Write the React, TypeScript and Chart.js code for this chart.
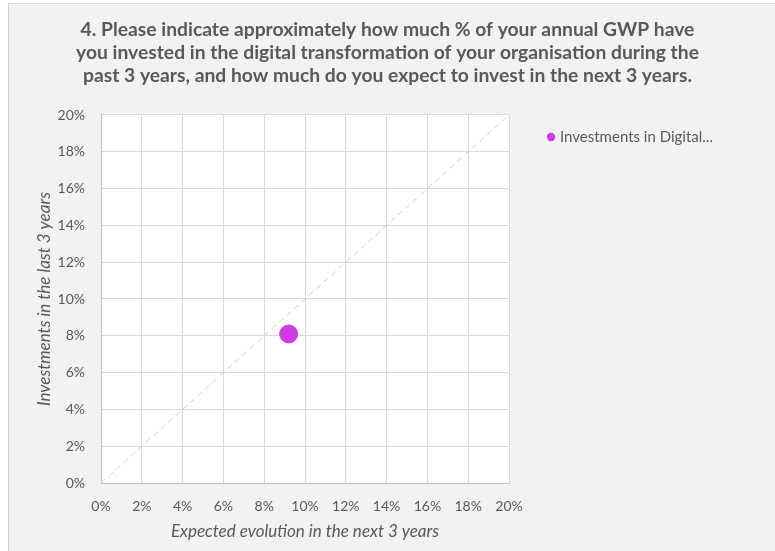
import React, { useEffect, useRef } from 'react';
import { Chart, registerables } from 'chart.js';

Chart.register(...registerables);

// ---- data ----
const titleLines = [
  '4. Please indicate approximately how much % of your annual GWP have',
  'you invested in the digital transformation of your organisation during the',
  'past 3 years, and how much do you expect to invest in the next 3 years.',
];
const seriesLabel = 'Investments in Digital...';
const expectedNext3Years = [9.2];
const investedLast3Years = [8.1];
const diagonalX = [0, 20];
const diagonalY = [0, 20];
const xAxisTitle = 'Expected evolution in the next 3 years';
const yAxisTitle = 'Investments in the last 3 years';
const axisMin = 0;
const axisMax = 20;
const axisStep = 2;

const FONT = 'Lato, "Open Sans", sans-serif';
const TEXT = '#595959';
const POINT = '#cf3ce6';

const backgroundPlugin = {
  id: 'bgPanel',
  beforeDraw(chart: any) {
    const { ctx, width, height, chartArea } = chart;
    ctx.save();
    ctx.fillStyle = '#ffffff';
    ctx.fillRect(0, 0, width, height);
    ctx.fillStyle = '#f2f2f2';
    ctx.fillRect(8, 3, width - 8, height - 3);
    ctx.strokeStyle = '#d4d4d4';
    ctx.lineWidth = 1;
    ctx.beginPath();
    ctx.moveTo(8.5, height);
    ctx.lineTo(8.5, 3.5);
    ctx.lineTo(width, 3.5);
    ctx.stroke();
    ctx.fillStyle = '#ffffff';
    ctx.fillRect(chartArea.left, chartArea.top, chartArea.right - chartArea.left, chartArea.bottom - chartArea.top);
    ctx.restore();
  },
};

const sideLegendPlugin = {
  id: 'sideLegend',
  afterDraw(chart: any) {
    const { ctx, chartArea } = chart;
    const ds = chart.data.datasets[0];
    const x = chartArea.right + 42;
    const y = chartArea.top + 22;
    ctx.save();
    ctx.fillStyle = ds.backgroundColor;
    ctx.beginPath();
    ctx.arc(x, y, 4.2, 0, Math.PI * 2);
    ctx.fill();
    ctx.fillStyle = TEXT;
    ctx.font = `15px ${FONT}`;
    ctx.textBaseline = 'middle';
    ctx.textAlign = 'left';
    ctx.fillText(ds.label, x + 9, y);
    ctx.restore();
  },
};

export default function App() {
  const ref = useRef<HTMLCanvasElement>(null);
  useEffect(() => {
    document.body.style.margin = '0';
    const canvas = ref.current!;
    const points = expectedNext3Years.map((x, i) => ({ x, y: investedLast3Years[i] }));
    const diag = diagonalX.map((x, i) => ({ x, y: diagonalY[i] }));
    const tickFont = { family: FONT, size: 14, lineHeight: 1.2 };
    const chart = new Chart(canvas, {
      type: 'scatter',
      data: {
        datasets: [
          {
            label: seriesLabel,
            data: points,
            backgroundColor: POINT,
            borderColor: POINT,
            pointRadius: 9,
            pointHoverRadius: 9,
          },
          {
            label: 'diagonal',
            data: diag,
            showLine: true,
            pointRadius: 0,
            borderColor: '#d0d0d0',
            borderWidth: 1,
            borderDash: [6, 4],
            backgroundColor: 'transparent',
          } as any,
        ],
      },
      options: {
        animation: false,
        responsive: false,
        devicePixelRatio: 1,
        layout: { padding: 0 },
        plugins: {
          legend: { display: false },
          tooltip: { enabled: false },
          title: {
            display: true,
            text: titleLines,
            color: TEXT,
            font: { family: FONT, size: 19.3, weight: 'bold', lineHeight: 1.207 },
            padding: { top: 17.85, bottom: 27.25 },
          },
        },
        scales: {
          x: {
            type: 'linear',
            min: axisMin,
            max: axisMax,
            afterFit: (s: any) => { s.height = 68; },
            ticks: {
              stepSize: axisStep,
              color: TEXT,
              font: tickFont,
              padding: 14.6,
              maxRotation: 0,
              autoSkip: false,
              callback: (v: any) => v + '%',
            },
            grid: { color: '#d9d9d9', drawTicks: false },
            border: { color: '#bfbfbf' },
            title: {
              display: true,
              text: xAxisTitle,
              color: TEXT,
              font: { family: FONT, size: 17, style: 'italic', lineHeight: 1.2 },
              padding: { top: 0, bottom: 9.3 },
            },
          },
          y: {
            type: 'linear',
            min: axisMin,
            max: axisMax,
            afterFit: (s: any) => { s.width = 101; },
            ticks: {
              stepSize: axisStep,
              color: TEXT,
              font: tickFont,
              padding: 16,
              callback: (v: any) => v + '%',
            },
            grid: { color: '#d9d9d9', drawTicks: false },
            border: { color: '#bfbfbf' },
            title: {
              display: true,
              text: yAxisTitle,
              color: TEXT,
              font: { family: FONT, size: 17, style: 'italic', lineHeight: 1.2 },
              padding: { top: 34.8, bottom: 0 },
            },
          },
          legendSpace: {
            type: 'linear',
            position: 'right',
            min: axisMin,
            max: axisMax,
            afterFit: (s: any) => { s.width = 266; },
            ticks: { display: false },
            grid: { display: false, drawTicks: false },
            border: { display: false },
          },
        },
      } as any,
      plugins: [backgroundPlugin, sideLegendPlugin],
    });
    return () => chart.destroy();
  }, []);
  return (
    <canvas
      ref={ref}
      width={775}
      height={551}
      style={{ display: 'block', width: 775, height: 551 }}
    />
  );
}
